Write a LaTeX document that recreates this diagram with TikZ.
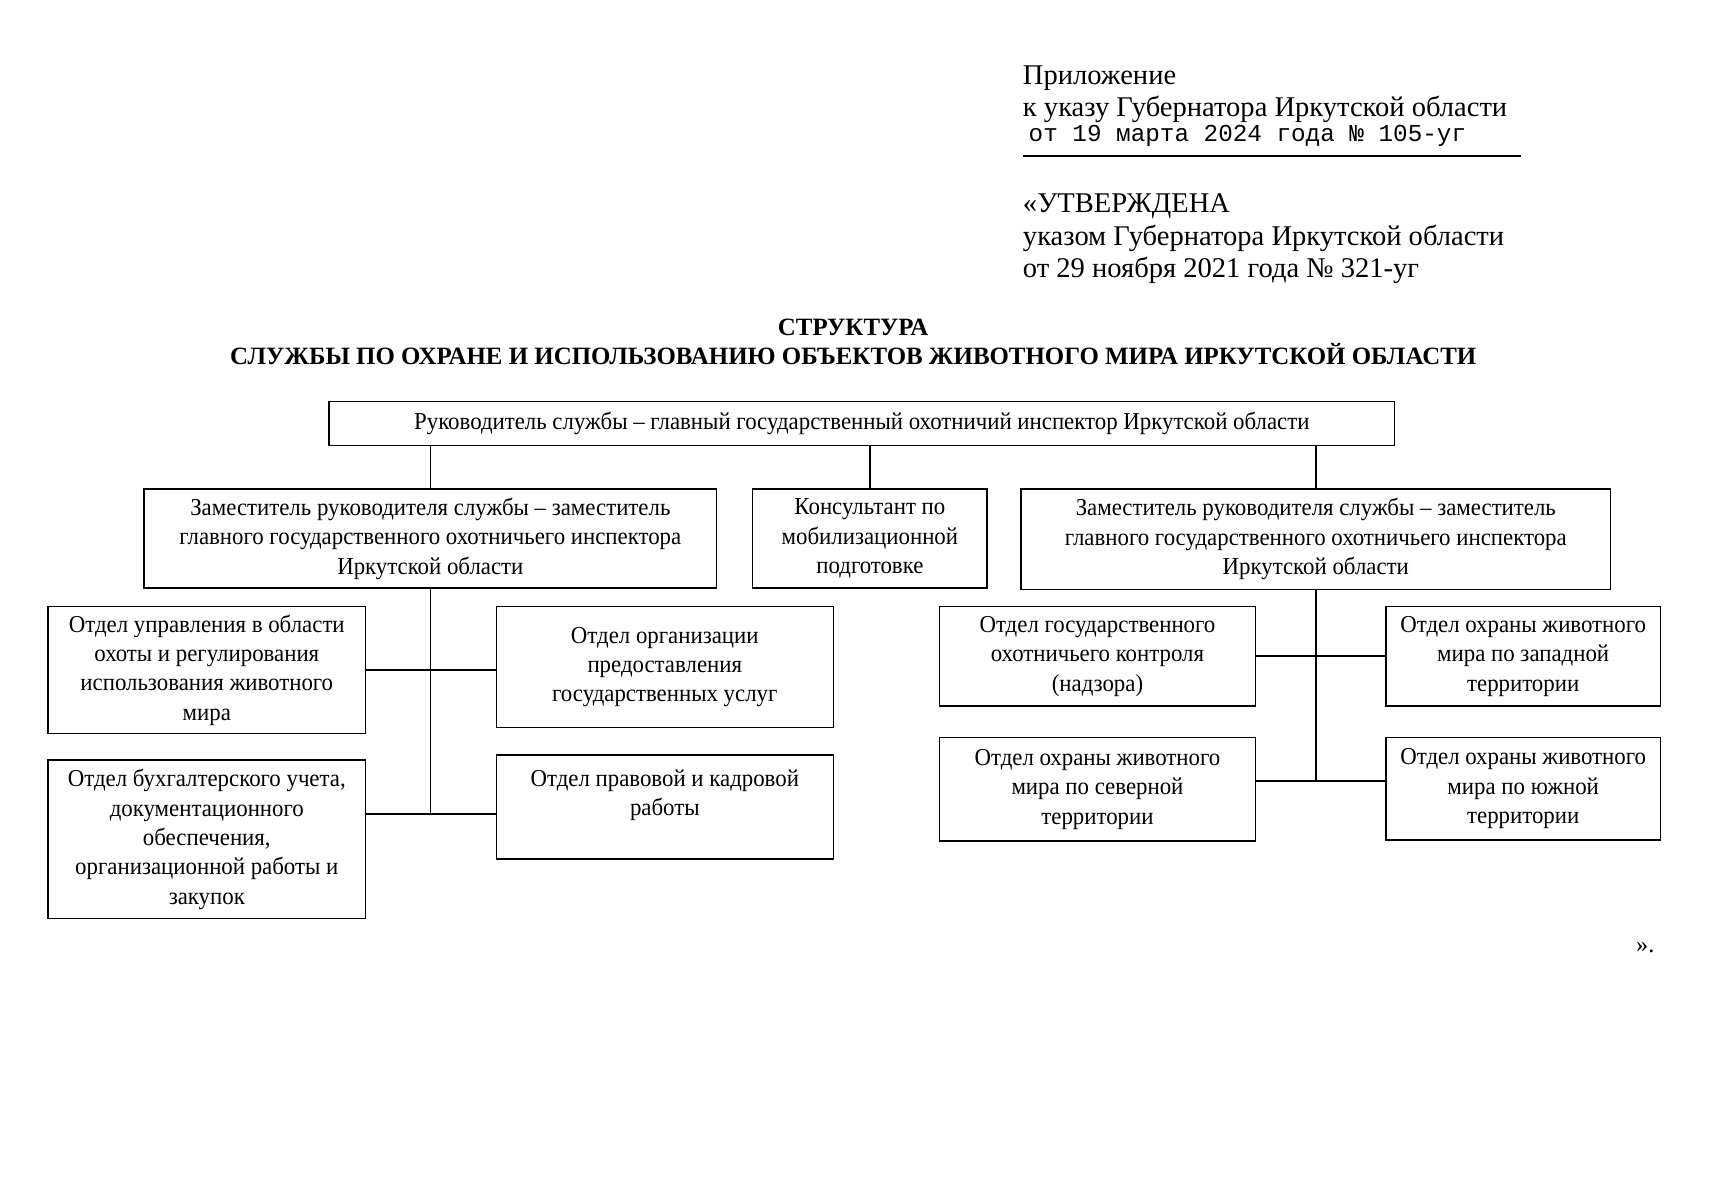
\documentclass[tikz,border=0pt]{standalone}
\usepackage{fontspec}
\setmainfont{Liberation Serif}
\setmonofont{Liberation Mono}
\newfontfamily\boxfont[FakeStretch=0.94]{Liberation Serif}
\usetikzlibrary{positioning}

\begin{document}
\begin{tikzpicture}[
      box/.style={draw, rectangle, line width=0.8pt, inner sep=2pt,
                  align=center, font=\boxfont\fontsize{12}{14.5}\selectfont},
      conn/.style={line width=0.8pt},
      hdr/.style={anchor=base west, inner sep=0pt, font=\fontsize{14.1}{16}\selectfont},
      ttl/.style={anchor=base, inner sep=0pt, font=\bfseries\fontsize{12.3}{14}\selectfont}
    ]
    \useasboundingbox (0,0) rectangle (29.70,-20.83);

    % Header
    \node[hdr] (pril)  at (17.75,-1.458) {Приложение};
    \node[hdr] (ukaz)  at (17.75,-2.027) {к указу Губернатора Иркутской области};
    \node[hdr, font=\ttfamily\fontsize{12}{14}\selectfont] (data) at (17.85,-2.462)
        {от 19 марта 2024 года №~105-уг};
    \draw[line width=0.6pt] (17.75,-2.708) -- (26.40,-2.708);
    \node[hdr] (utv)   at (17.75,-3.693) {«УТВЕРЖДЕНА};
    \node[hdr] (ukaz2) at (17.75,-4.262) {указом Губернатора Иркутской области};
    \node[hdr] (data2) at (17.75,-4.811) {от 29 ноября 2021 года №~321-уг};

    % Title
    \node[ttl] (title1) at (14.81,-5.815) {СТРУКТУРА};
    \node[ttl] (title2) at (14.81,-6.326)
        {СЛУЖБЫ ПО ОХРАНЕ И ИСПОЛЬЗОВАНИЮ ОБЪЕКТОВ ЖИВОТНОГО МИРА ИРКУТСКОЙ ОБЛАСТИ};

    % Boxes
    \node[box, minimum width=18.49cm, minimum height=0.76cm] (head) at (14.96,-7.35)
        {Руководитель службы – главный государственный охотничий инспектор Иркутской области};
    \node[box, minimum width=9.94cm, minimum height=1.72cm] (zamL) at (7.47,-9.35)
        {Заместитель руководителя службы – заместитель\\главного государственного охотничьего инспектора\\Иркутской области};
    \node[box, minimum width=4.07cm, minimum height=1.72cm] (kons) at (15.10,-9.35)
        {Консультант по\\мобилизационной\\подготовке};
    \node[box, minimum width=10.23cm, minimum height=1.74cm] (zamR) at (22.84,-9.36)
        {Заместитель руководителя службы – заместитель\\главного государственного охотничьего инспектора\\Иркутской области};

    \node[box, minimum width=5.51cm, minimum height=2.20cm] (ohota) at (3.59,-11.63)
        {Отдел управления в области\\охоты и регулирования\\использования животного\\мира};
    \node[box, minimum width=5.51cm, minimum height=2.75cm] (buh) at (3.59,-14.57)
        {Отдел бухгалтерского учета,\\документационного\\обеспечения,\\организационной работы и\\закупок};
    \node[box, minimum width=5.85cm, minimum height=2.10cm] (uslug) at (11.54,-11.58)
        {Отдел организации\\предоставления\\государственных услуг};
    \node[box, minimum width=5.85cm, minimum height=1.80cm] (prav) at (11.54,-14.01)
        {Отдел правовой и кадровой\\работы\\~};

    \node[box, minimum width=5.49cm, minimum height=1.72cm] (kontrol) at (19.05,-11.39)
        {Отдел государственного\\охотничьего контроля\\(надзора)};
    \node[box, minimum width=4.77cm, minimum height=1.72cm] (zapad) at (26.44,-11.39)
        {Отдел охраны животного\\мира по западной\\территории};
    \node[box, minimum width=5.49cm, minimum height=1.80cm] (sever) at (19.05,-13.70)
        {Отдел охраны животного\\мира по северной\\территории};
    \node[box, minimum width=4.77cm, minimum height=1.78cm] (yug) at (26.44,-13.69)
        {Отдел охраны животного\\мира по южной\\территории};

    % Connectors
    \draw[conn] (zamL.north) -- (zamL.north |- head.south);
    \draw[conn] (kons.north) -- (kons.north |- head.south);
    \draw[conn] (zamR.north) -- (zamR.north |- head.south);

    \coordinate (jL) at ([yshift=-0.12cm]prav.west);
    \draw[conn] (zamL.south) -- (zamL.south |- jL);
    \draw[conn] (ohota.east) -- (uslug.west |- ohota.east);
    \draw[conn] (buh.east |- jL) -- (jL);

    \coordinate (jR) at ([yshift=0.14cm]sever.east);
    \draw[conn] (zamR.south) -- (zamR.south |- jR);
    \draw[conn] (kontrol.east) -- (zapad.west);
    \draw[conn] (jR) -- (yug.west |- jR);

    \node[font=\fontsize{12}{14}\selectfont] (end) at (28.56,-16.44) {».};
  \end{tikzpicture}
\end{document}
